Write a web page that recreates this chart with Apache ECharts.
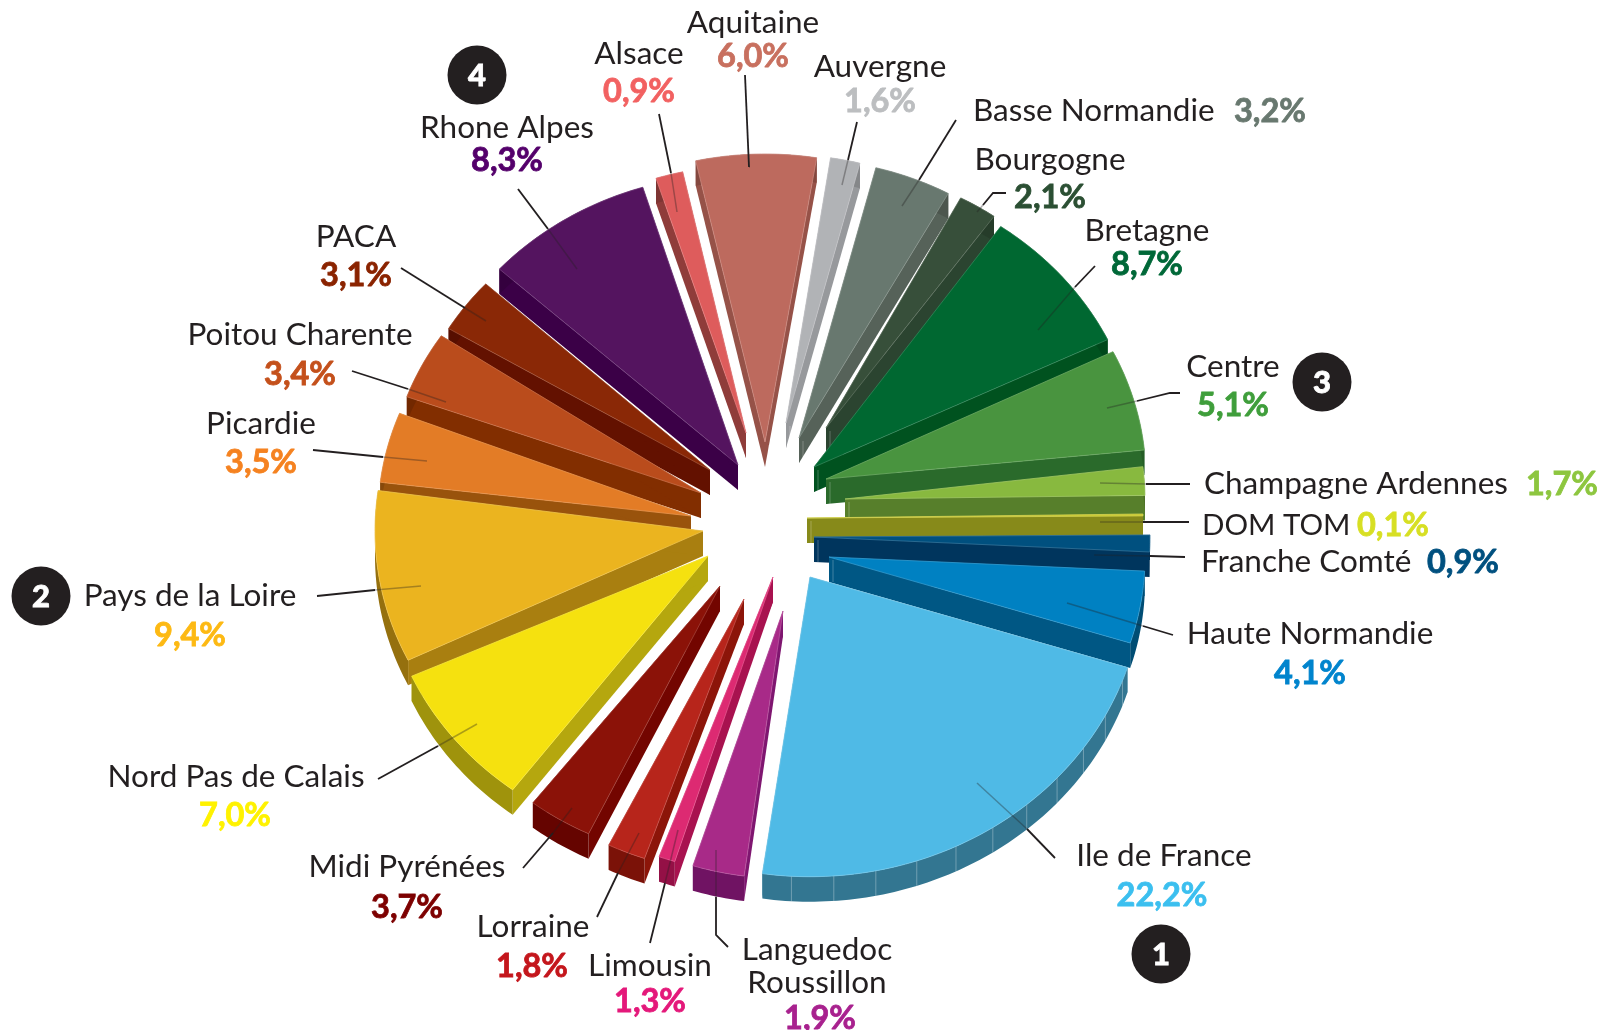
<!DOCTYPE html>
<html>
<head>
<meta charset="utf-8">
<title>Régions</title>
<style>
html, body { margin: 0; padding: 0; background: #fff; }
#main { width: 1601px; height: 1030px; }
</style>
<script src="https://cdn.jsdelivr.net/npm/echarts@6/dist/echarts.min.js"></script>
</head>
<body>
<div id="main"></div>
<script>
// donnees, sens horaire depuis Ile de France
let regions = ['Ile de France', 'Languedoc\nRoussillon', 'Limousin', 'Lorraine', 'Midi Pyrénées', 'Nord Pas de Calais',
    'Pays de la Loire', 'Picardie', 'Poitou Charente', 'PACA', 'Rhone Alpes', 'Alsace', 'Aquitaine', 'Auvergne',
    'Basse Normandie', 'Bourgogne', 'Bretagne', 'Centre', 'Champagne Ardennes', 'DOM TOM', 'Franche Comté', 'Haute Normandie'];
let shares = [22.2, 1.9, 1.3, 1.8, 3.7, 7.0, 9.4, 3.5, 3.4, 3.1, 8.3, 0.9, 6.0, 1.6, 3.2, 2.1, 8.7, 5.1, 1.7, 0.1, 0.9, 4.1];
let badges = ['1', '2', '3', '4'];

// couleurs
let topColors = ['#4fbae6', '#a82a88', '#dd2a72', '#b7251b', '#8b1208', '#f5e10f', '#ebb41f', '#e37c26', '#ba4c1c', '#8a2806', '#54145f',
    '#de5c5c', '#bd6a5e', '#b1b3b6', '#68786f', '#374f3a', '#006831', '#49943f', '#88b93f', '#c8c82a', '#00507f', '#0081c2'];
let sideColors = ['#3a86a5', '#7f1670', '#a8124f', '#8c1509', '#730500', '#b5a70e', '#a97f10', '#99530c', '#822e00', '#631100', '#3b0047',
    '#8f3c3a', '#965248', '#97999c', '#566259', '#2b4430', '#00521f', '#2a6a2b', '#577f2b', '#878a1a', '#00355d', '#005784'];
let textColors = ['#3bbfef', '#a8218e', '#e4187a', '#c4161c', '#7d0000', '#fff200', '#fdb913', '#f58220', '#c4501b', '#8a2300', '#54006b',
    '#f26161', '#c8705f', '#bcbec0', '#68786f', '#2b4f33', '#006838', '#3f9e3b', '#8dc63f', '#d7df23', '#00507f', '#0084cd'];

// mise en page : pointe de chaque part, rayon
let apex = [[810, 577], [783, 611], [773, 577], [744, 599], [720, 586], [708, 556], [703, 531], [691, 516], [701, 493], [710, 470], [738, 465],
    [746, 433], [765, 442], [786, 423], [799, 438], [826, 428], [814, 467], [826, 479], [845, 499], [807, 518], [814, 537], [829, 557]];
let radii = [333, 297, 331, 305, 305, 325, 328, 313, 313, 305, 323, 297, 320, 298, 310, 289, 326, 320, 300, 336, 336, 316];
// retouche des bords en degres [debut, fin], le dessin d'origine elargit certaines parts
let edgeNudge = [[0, 0.7], [0, 3.3], [2.9, 1.1], [0, 0.8], [0, -1], [-1.9, 1.7], [0, 0], [-1, 0.9], [-0.5, 1.2], [-1.7, -1.2], [-1.5, -0.9],
    [-1.4, 0.7], [0.5, 0.7], [0, 0], [0, 2.9], [1.9, 2.1], [1.5, -0.5], [-1, 1.1], [0, 0], [0, 0], [0, 0], [0, 0]];

// [x nom, y nom, x pct, y pct, align]
let labelPos = [
    [1164, 856, 1162, 896, 'center'], [817, 966, 820, 1019, 'center'], [650, 966, 650, 1002, 'center'], [533, 927, 532, 967, 'center'],
    [407, 867, 407, 908, 'center'], [236, 777, 235, 816, 'center'], [190, 596, 190, 636, 'center'], [261, 424, 261, 463, 'center'],
    [300, 335, 300, 375, 'center'], [356, 237, 356, 276, 'center'], [507, 128, 507, 161, 'center'], [639, 54, 639, 92, 'center'],
    [753, 23, 753, 57, 'center'], [880, 67, 880, 102, 'center'], [973, 111, 1234, 112, 'left'], [1050, 160, 1050, 198, 'center'],
    [1147, 231, 1147, 265, 'center'], [1233, 367, 1233, 406, 'center'], [1204, 484, 1526, 485, 'left'], [1202, 525, 1357, 526, 'left'],
    [1201, 562, 1427, 563, 'left'], [1310, 634, 1310, 674, 'center']
];
let nameSizes = [31.5, 31.5, 31.5, 31.5, 31.5, 31.5, 31.5, 31.5, 31.5, 31.5, 31.5, 31.5, 31.5, 31.5, 31.5, 31.5, 31.5, 31.5, 31.5, 29.5, 31.5, 31.5];

// traits de rappel : le dernier segment passe sur la part, plus clair
let leaders = [
    [[1055, 858], [1027, 829], [977, 783]], [[728, 947], [716, 935], [716, 897], [716, 850]], [[650, 943], [665, 883], [678, 830]],
    [[597, 917], [618, 873], [639, 833]], [[523, 868], [553, 833], [572, 808]], [[378, 779], [438, 746], [477, 724]],
    [[317, 596], [375, 590], [421, 586]], [[313, 450], [383, 457], [427, 461]], [[352, 371], [408, 389], [446, 402]],
    [[401, 268], [465, 308], [486, 321]], [[518, 189], [548, 229], [577, 269]], [[659, 114], [671, 173], [677, 212]],
    [[745, 75], [749, 167], [750, 167]], [[857, 122], [848, 160], [842, 185]], [[956, 120], [919, 180], [902, 206]],
    [[1006, 193], [993, 193], [983, 205], [977, 212]], [[1095, 266], [1075, 287], [1038, 330]], [[1180, 393], [1170, 393], [1137, 401], [1107, 408]],
    [[1190, 484], [1146, 484], [1100, 483]], [[1189, 522], [1143, 522], [1100, 522]], [[1185, 557], [1150, 556], [1094, 555]],
    [[1173, 635], [1143, 626], [1067, 603]]
];
let badgePos = [[1161, 954], [41, 596], [1322, 382], [477, 75]];

const START_ANGLE = 17.6;  // degres, bord droit d'Ile de France
const SQUASH = 0.9;        // perspective
const DEPTH = 25;
const RIB_STEP = 7.3;

let total = shares.reduce((a, b) => a + b, 0);

function rim(i, a) {
    let r = a * Math.PI / 180;
    return [apex[i][0] + radii[i] * Math.cos(r), apex[i][1] + radii[i] * SQUASH * Math.sin(r)];
}
function down(p) {
    return [p[0], p[1] + DEPTH];
}
// f < 1 assombrit, f > 1 eclaircit
function shade(hex, f) {
    let n = parseInt(hex.slice(1), 16);
    let rgb = [n >> 16, (n >> 8) & 255, n & 255].map(c => f <= 1 ? c * f : c + (255 - c) * (f - 1));
    return 'rgb(' + rgb.map(Math.round).join(',') + ')';
}

function renderSlice(params, api) {
    let i = params.dataIndex;
    let before = 0;
    for (let k = 0; k < i; k++) before += shares[k];
    let a0 = START_ANGLE + before / total * 360;
    let a1 = a0 + api.value(0) / total * 360;
    a0 += edgeNudge[i][0];
    a1 += edgeNudge[i][1];
    let mid = (a0 + a1) / 2;
    let z = Math.round((Math.sin(mid * Math.PI / 180) + 1) * 100) * 10;

    let arc = [];
    let steps = Math.max(2, Math.ceil(a1 - a0));
    for (let s = 0; s <= steps; s++) arc.push(rim(i, a0 + (a1 - a0) * s / steps));

    let A = apex[i];
    let first = arc[0], last = arc[arc.length - 1];
    let rimSide = arc.concat(arc.slice().reverse().map(down));
    let side = sideColors[i];

    let children = [
        { type: 'polygon', z2: z, shape: { points: [A, first, down(first), down(A)] }, style: { fill: side } },
        { type: 'polygon', z2: z, shape: { points: [A, last, down(last), down(A)] }, style: { fill: side } },
        { type: 'polygon', z2: z + 1, shape: { points: rimSide }, style: { fill: shade(side, 0.88) } },
        { type: 'line', z2: z + 2, shape: { x1: A[0] + 4, y1: A[1] + 3, x2: A[0] + 4, y2: A[1] + DEPTH }, style: { stroke: 'rgba(255,255,255,0.25)', lineWidth: 1 } },
        {
            type: 'polygon', z2: z + 3, shape: { points: [A].concat(arc) },
            style: { fill: topColors[i], stroke: shade(topColors[i], 1.2), lineWidth: 0.8, lineJoin: 'round' }
        }
    ];
    // facettes visibles sur le bord de la grande part
    if (i === 0) {
        for (let a = a0 + 2.6; a < a1; a += RIB_STEP) {
            let p = rim(i, a);
            children.push({
                type: 'line', z2: z + 2, shape: { x1: p[0], y1: p[1], x2: p[0], y2: p[1] + DEPTH },
                style: { stroke: 'rgba(255,255,255,0.3)', lineWidth: 1 }
            });
        }
    }
    return { type: 'group', children: children };
}

const NAME_FONT = 'Lato, "Noto Sans", sans-serif';

function renderLabel(params, api) {
    let i = params.dataIndex;
    let pos = labelPos[i];
    let pct = api.value(0).toFixed(1).replace('.', ',') + '%';
    let pts = leaders[i];
    let outer = pts.slice(0, pts.length - 1);
    let inner = pts.slice(pts.length - 2);
    return {
        type: 'group',
        children: [
            { type: 'polyline', z2: 3000, shape: { points: outer }, style: { fill: null, stroke: '#231f20', lineWidth: 1.8 } },
            { type: 'polyline', z2: 3000, shape: { points: inner }, style: { fill: null, stroke: 'rgba(35,31,32,0.35)', lineWidth: 1.5 } },
            {
                type: 'text', z2: 3001, x: pos[0], y: pos[1],
                style: { text: regions[i], font: '400 ' + nameSizes[i] + 'px ' + NAME_FONT, fill: '#231f20', align: pos[4], verticalAlign: 'middle', lineHeight: 33 }
            },
            {
                type: 'text', z2: 3001, x: pos[2], y: pos[3],
                style: {
                    text: pct, font: '700 32.5px ' + NAME_FONT, fill: textColors[i], align: pos[4], verticalAlign: 'middle',
                    stroke: textColors[i], lineWidth: 0.8
                }
            }
        ]
    };
}

let chart = echarts.init(document.getElementById('main'));
chart.setOption({
    animation: false,
    backgroundColor: '#fff',
    graphic: badges.map((b, k) => ({
        type: 'group', z: 10, silent: true,
        children: [
            { type: 'circle', shape: { cx: badgePos[k][0], cy: badgePos[k][1], r: 29.5 }, style: { fill: '#231f20' } },
            {
                type: 'text', x: badgePos[k][0], y: badgePos[k][1] + 1,
                style: { text: b, font: '900 31px ' + NAME_FONT, fill: '#fff', align: 'center', verticalAlign: 'middle', stroke: '#fff', lineWidth: 0.8 }
            }
        ]
    })),
    series: [
        { type: 'custom', coordinateSystem: 'none', silent: true, data: shares.map(v => [v]), renderItem: renderSlice, z: 2 },
        { type: 'custom', coordinateSystem: 'none', silent: true, data: shares.map(v => [v]), renderItem: renderLabel, z: 3 }
    ]
});
</script>
</body>
</html>
